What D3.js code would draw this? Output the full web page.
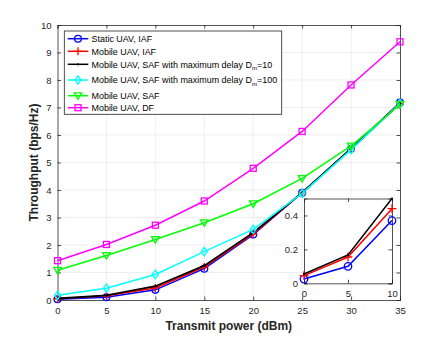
<!DOCTYPE html>
<html>
<head>
<style>
body { margin: 0; background: #fff; }
text { font-family: "Liberation Sans", Arial, sans-serif; }
</style>
<script src="https://d3js.org/d3.v7.min.js"></script>
</head>
<body>
<div id="chart"></div>
<script>
// data
var power = [0, 5, 10, 15, 20, 25, 30, 35];
var staticIAF = [0.025, 0.10, 0.37, 1.14, 2.38, 3.90, 5.50, 7.18];
var mobileIAF = [0.045, 0.155, 0.44, 1.20, 2.40, 3.90, 5.50, 7.15];
var safD10 = [0.055, 0.167, 0.50, 1.25, 2.45, 3.90, 5.50, 7.15];
var safD100 = [0.17, 0.43, 0.93, 1.76, 2.57, 3.88, 5.47, 7.15];
var mobileSAF = [1.08, 1.62, 2.20, 2.81, 3.50, 4.42, 5.60, 7.11];
var mobileDF = [1.43, 2.02, 2.72, 3.60, 4.79, 6.13, 7.82, 9.39];
var xTicks = [0, 5, 10, 15, 20, 25, 30, 35];
var yTicks = [0, 1, 2, 3, 4, 5, 6, 7, 8, 9, 10];
var insetX = [0, 5, 10];
var insetYTicks = [0, 0.2, 0.4];

var series = [
  {name: "Static UAV, IAF", values: staticIAF, color: "#0000ff", marker: "circle"},
  {name: "Mobile UAV, IAF", values: mobileIAF, color: "#ff0000", marker: "plus"},
  {name: "Mobile UAV, SAF with maximum delay D", sub: "m", tail: "=10", values: safD10, color: "#000000", marker: "dot"},
  {name: "Mobile UAV, SAF with maximum delay D", sub: "m", tail: "=100", values: safD100, color: "#00ffff", marker: "diamond"},
  {name: "Mobile UAV, SAF", values: mobileSAF, color: "#00ff00", marker: "triangle"},
  {name: "Mobile UAV, DF", values: mobileDF, color: "#ff00ff", marker: "square"}
];

var width = 443, height = 337;
var svg = d3.select("#chart").append("svg")
  .attr("width", width).attr("height", height);

var mLeft = 57.5, mRight = 400, mTop = 25, mBottom = 300;
var x = d3.scaleLinear().domain([0, 35]).range([mLeft, mRight]);
var y = d3.scaleLinear().domain([0, 10]).range([mBottom, mTop]);

var axisColor = "#262626";
var gridColor = "#e6e6e6";

// grid
svg.append("g").selectAll("line.gx").data(xTicks.slice(1, -1)).enter().append("line")
  .attr("x1", d => x(d)).attr("x2", d => x(d)).attr("y1", mTop).attr("y2", mBottom)
  .attr("stroke", gridColor).attr("stroke-width", 0.7);
svg.append("g").selectAll("line.gy").data(yTicks.slice(1, -1)).enter().append("line")
  .attr("y1", d => y(d)).attr("y2", d => y(d)).attr("x1", mLeft).attr("x2", mRight)
  .attr("stroke", gridColor).attr("stroke-width", 0.7);

// axes with inward ticks
function drawAxes(g, xs, ys, xt, yt, fmtX, fmtY, fs) {
  var r = xs.range(), c = ys.range();
  var tl = 3.5;
  g.append("g").attr("transform", "translate(0," + c[0] + ")")
    .call(d3.axisBottom(xs).tickValues(xt).tickSize(-tl).tickPadding(7).tickFormat(fmtX));
  g.append("g").attr("transform", "translate(0," + c[1] + ")")
    .call(d3.axisTop(xs).tickValues(xt).tickSize(-tl).tickFormat(""));
  g.append("g").attr("transform", "translate(" + r[0] + ",0)")
    .call(d3.axisLeft(ys).tickValues(yt).tickSize(-tl).tickPadding(6).tickFormat(fmtY));
  g.append("g").attr("transform", "translate(" + r[1] + ",0)")
    .call(d3.axisRight(ys).tickValues(yt).tickSize(-tl).tickFormat(""));
  g.selectAll(".domain").attr("stroke", axisColor).attr("stroke-width", 0.8);
  g.selectAll(".tick line").attr("stroke", axisColor).attr("stroke-width", 0.8);
  g.selectAll(".tick text").attr("fill", axisColor).style("font-size", fs + "px")
    .style("font-family", "'Liberation Sans', Arial, sans-serif");
}

var axes = svg.append("g");
drawAxes(axes, x, y, xTicks, yTicks, d3.format("d"), d3.format("d"), 9.5);

// markers
function drawMarker(g, type, cx, cy, color, s) {
  s = s || 1;
  if (type === "circle") {
    g.append("circle").attr("cx", cx).attr("cy", cy).attr("r", 3.4 * s)
      .attr("fill", "none").attr("stroke", color).attr("stroke-width", 1.3);
  } else if (type === "plus") {
    g.append("path").attr("d", "M" + (cx - 4 * s) + "," + cy + "h" + 8 * s + "M" + cx + "," + (cy - 4 * s) + "v" + 8 * s)
      .attr("stroke", color).attr("stroke-width", 1.3).attr("fill", "none");
  } else if (type === "dot") {
    g.append("circle").attr("cx", cx).attr("cy", cy).attr("r", 1.1)
      .attr("fill", color);
  } else if (type === "diamond") {
    var a = 4.2 * s, b = 3 * s;
    g.append("path").attr("d", "M" + cx + "," + (cy - a) + "L" + (cx + b) + "," + cy + "L" + cx + "," + (cy + a) + "L" + (cx - b) + "," + cy + "Z")
      .attr("fill", "none").attr("stroke", color).attr("stroke-width", 1.3);
  } else if (type === "triangle") {
    var t = 3.8 * s;
    g.append("path").attr("d", "M" + (cx - t) + "," + (cy - t * 0.75) + "L" + (cx + t) + "," + (cy - t * 0.75) + "L" + cx + "," + (cy + t * 0.95) + "Z")
      .attr("fill", "none").attr("stroke", color).attr("stroke-width", 1.3);
  } else if (type === "square") {
    var q = 3 * s;
    g.append("rect").attr("x", cx - q).attr("y", cy - q).attr("width", 2 * q).attr("height", 2 * q)
      .attr("fill", "none").attr("stroke", color).attr("stroke-width", 1.3);
  }
}

var line = d3.line().x(d => x(d[0])).y(d => y(d[1]));
var plot = svg.append("g");
series.forEach(function(s) {
  var pts = power.map((p, i) => [p, s.values[i]]);
  plot.append("path").datum(pts).attr("d", line)
    .attr("fill", "none").attr("stroke", s.color).attr("stroke-width", s.marker === "dot" ? 1.8 : 1.5);
  pts.forEach(p => drawMarker(plot, s.marker, x(p[0]), y(p[1]), s.color));
});

// legend
var lg = svg.append("g");
lg.append("rect").attr("x", 64.3).attr("y", 31).attr("width", 217.4).attr("height", 83.3)
  .attr("fill", "#fff").attr("stroke", axisColor).attr("stroke-width", 0.8);
var legendY = [38.7, 51.3, 64.3, 80, 95.7, 107.7];
var legendTexts = [];
series.forEach(function(s, i) {
  var ly = legendY[i];
  lg.append("line").attr("x1", 67.7).attr("x2", 88.3).attr("y1", ly).attr("y2", ly)
    .attr("stroke", s.color).attr("stroke-width", 1.5);
  drawMarker(lg, s.marker, 78, ly, s.color);
  var t = lg.append("text").attr("x", 91.5).attr("y", ly + 3.2).style("font-size", "9px").attr("fill", "#000");
  t.append("tspan").text(s.name);
  if (s.sub) {
    t.append("tspan").attr("dy", 2.8).style("font-size", "6px").text(s.sub);
    t.append("tspan").attr("dy", -2.8).text(s.tail);
  }
  legendTexts.push(t);
});
// fit longest legend entry to the box like the original
var longest = legendTexts[3].node().getComputedTextLength();
if (longest > 0) {
  var fs = Math.min(9, 9 * 186 / longest);
  legendTexts.forEach(function(t) {
    t.style("font-size", fs + "px");
    t.selectAll("tspan").filter((d, i) => i === 1).style("font-size", (fs * 0.68) + "px");
  });
}

// inset
var ix = d3.scaleLinear().domain([0, 10]).range([304, 392]);
var iy = d3.scaleLinear().domain([0, 0.5]).range([283.3, 198.5]);
var inset = svg.append("g");
inset.append("rect").attr("x", 304).attr("y", 198.5).attr("width", 88).attr("height", 84.8).attr("fill", "#fff");
var iaxes = inset.append("g");
drawAxes(iaxes, ix, iy, insetX, insetYTicks, d3.format("d"), d => d === 0 ? "0" : d3.format(".1f")(d), 9.5);
var iline = d3.line().x(d => ix(d[0])).y(d => iy(d[1]));
series.slice(0, 3).forEach(function(s) {
  var pts = insetX.map((p, i) => [p, s.values[i]]);
  inset.append("path").datum(pts).attr("d", iline)
    .attr("fill", "none").attr("stroke", s.color).attr("stroke-width", 1.5);
  pts.forEach(p => drawMarker(inset, s.marker, ix(p[0]), iy(p[1]), s.color, 1.1));
});

// axis titles
svg.append("text").attr("x", (mLeft + mRight) / 2).attr("y", 329.5).attr("text-anchor", "middle")
  .style("font-size", "12px").style("font-weight", "bold").attr("fill", "#262626")
  .text("Transmit power (dBm)");
svg.append("text").attr("transform", "translate(37.5," + ((mTop + mBottom) / 2) + ") rotate(-90)")
  .attr("text-anchor", "middle")
  .style("font-size", "12px").style("font-weight", "bold").attr("fill", "#262626")
  .text("Throughput (bps/Hz)");
</script>
</body>
</html>
